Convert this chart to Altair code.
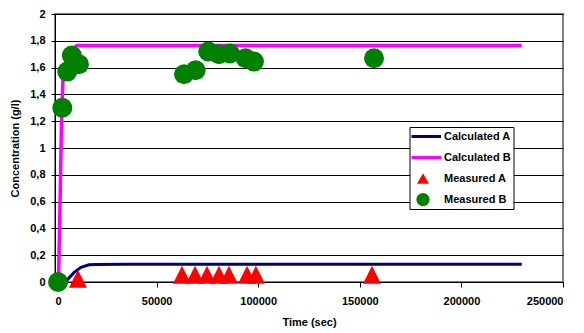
import altair as alt
import pandas as pd

# ---- data ----
series_names = ["Calculated A", "Calculated B", "Measured A", "Measured B"]

calc_a_t = [3000, 5900, 9300, 12800, 16700, 20000, 35000, 60000, 100000, 150000, 200000, 229700]
calc_a_v = [0.0, 0.013, 0.07, 0.11, 0.128, 0.13, 0.133, 0.133, 0.133, 0.133, 0.133, 0.133]

calc_b_t = [1700, 2500, 3200, 3900, 5000, 6900, 8500, 10800, 20000, 60000, 100000, 150000, 200000, 229700]
calc_b_v = [0.0, 0.6, 1.2, 1.5, 1.62, 1.70, 1.74, 1.765, 1.765, 1.765, 1.765, 1.765, 1.765, 1.765]

meas_a_t = [11300, 62500, 68900, 74800, 80700, 85600, 94500, 98900, 156000]
meas_a_v = [0.025, 0.055, 0.055, 0.055, 0.055, 0.055, 0.055, 0.055, 0.055]

meas_b_t = [1500, 3600, 6050, 8300, 11800, 63500, 69200, 75400, 80700, 86100, 93800, 97900, 157000]
meas_b_v = [0.0, 1.30, 1.57, 1.69, 1.625, 1.55, 1.58, 1.72, 1.70, 1.705, 1.67, 1.645, 1.67]

x_ticks = [0, 50000, 100000, 150000, 200000, 250000]
y_ticks = [0, 0.2, 0.4, 0.6, 0.8, 1, 1.2, 1.4, 1.6, 1.8, 2]

# ---- styling ----
NAVY, MAGENTA, RED, GREEN = "#000080", "#FF00FF", "#FF0000", "#008000"
FONT = "Liberation Sans"

df_ca = pd.DataFrame({"t": calc_a_t, "v": calc_a_v, "series": "Calculated A"})
df_cb = pd.DataFrame({"t": calc_b_t, "v": calc_b_v, "series": "Calculated B"})
df_ma = pd.DataFrame({"t": meas_a_t, "v": meas_a_v, "series": "Measured A"})
df_mb = pd.DataFrame({"t": meas_b_t, "v": meas_b_v, "series": "Measured B"})

x_enc = alt.X(
    "t:Q",
    scale=alt.Scale(domain=[0, 250000], nice=False),
    axis=alt.Axis(
        values=x_ticks, format="d", grid=False, title="Time (sec)",
        domainColor="black", domainWidth=1, tickColor="black", tickSize=5,
        labelPadding=8, titlePadding=10,
    ),
)
y_enc = alt.Y(
    "v:Q",
    scale=alt.Scale(domain=[0, 2], nice=False),
    axis=alt.Axis(
        values=y_ticks, format=".1~f", labelExpr="replace(datum.label, '.', ',')",
        grid=True, gridColor="black", gridWidth=1, title="Concentration (g/l)",
        domainColor="black", domainWidth=1, tickColor="black", tickSize=4,
        labelPadding=6, titlePadding=9,
    ),
)

line_a = alt.Chart(df_ca).mark_line(color=NAVY, strokeWidth=3).encode(x=x_enc, y=y_enc)
line_b = alt.Chart(df_cb).mark_line(color=MAGENTA, strokeWidth=3.5).encode(x=x_enc, y=y_enc)
pts_a = alt.Chart(df_ma).mark_point(
    shape="M0,-1L-1,1L1,1Z", filled=True, color=RED, size=324, opacity=1
).encode(x=x_enc, y=y_enc)
pts_b = alt.Chart(df_mb).mark_point(
    shape="circle", filled=True, color=GREEN, size=400, opacity=1
).encode(x=x_enc, y=y_enc)

# legend symbol paths (unit = 6 px), shifted slightly right inside the path
LEG_LINE = "M-2.5,0H3.5"
LEG_TRI = "M0.5,-0.87L-0.5,0.87L1.5,0.87Z"
LEG_CIRC = "M1.6,0A1.1,1.1 0 1,1 -0.6,0A1.1,1.1 0 1,1 1.6,0Z"

NB = "\u00a0"
legend_def = alt.Legend(
    title=None, orient="none", legendX=354.5, legendY=113,
    fillColor="white", strokeColor="black", padding=2, cornerRadius=0,
    labelFont=FONT, labelFontSize=11, labelFontWeight="bold", labelColor="black",
    labelExpr="datum.label + '" + NB * 4 + "'",
    symbolSize=144, symbolStrokeWidth=3, symbolOffset=1, labelOffset=16.5,
    rowPadding=6, clipHeight=15,
)
legend_layer = alt.Chart(df_mb).transform_filter("false").mark_point(filled=True, opacity=1).encode(
    fill=alt.Fill("series:N", scale=alt.Scale(domain=series_names,
                  range=["transparent", "transparent", RED, GREEN]), legend=legend_def),
    stroke=alt.Stroke("series:N", scale=alt.Scale(domain=series_names,
                      range=[NAVY, MAGENTA, "transparent", "transparent"]), legend=legend_def),
    shape=alt.Shape("series:N", scale=alt.Scale(domain=series_names,
                    range=[LEG_LINE, LEG_LINE, LEG_TRI, LEG_CIRC]), legend=legend_def),
)

chart = alt.layer(line_a, line_b, pts_a, pts_b, legend_layer).properties(
    width=508, height=268,
    autosize=alt.AutoSizeParams(type="none"),
    padding={"left": 55, "top": 14, "right": 21, "bottom": 51},
    background="white",
).configure_view(
    fill="#C0C0C0", stroke="#808080", strokeWidth=2
).configure_axis(
    labelFont=FONT, labelFontSize=11, labelFontWeight="bold", labelColor="black",
    titleFont=FONT, titleFontSize=11, titleFontWeight="bold", titleColor="black",
)

chart.save("out.html", embed_options={"renderer": "svg", "actions": False})
